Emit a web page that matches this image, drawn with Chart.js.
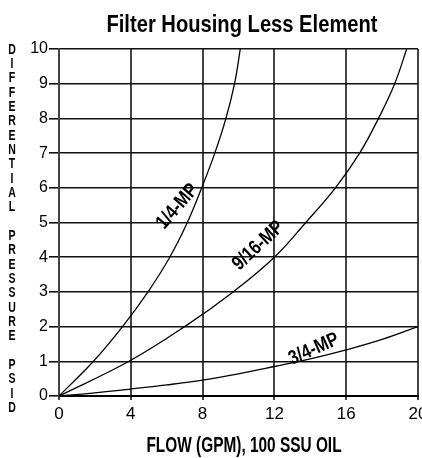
<!DOCTYPE html>
<html>
<head>
<meta charset="utf-8">
<script src="https://cdn.jsdelivr.net/npm/chart.js@4/dist/chart.umd.min.js"></script>
<style>
html,body{margin:0;padding:0;background:#fff;}
#wrap{width:422px;height:458px;}
</style>
</head>
<body>
<div id="wrap"><canvas id="c" width="422" height="458"></canvas></div>
<script>
// Data
const titleText = 'Filter Housing Less Element';
const xTitle = 'FLOW (GPM), 100 SSU OIL';
const yTitle = 'DIFFERENTIAL PRESSURE PSID';
const xTicks = [0, 4, 8, 12, 16, 20];
const yTicks = [0, 1, 2, 3, 4, 5, 6, 7, 8, 9, 10];

const seriesNames = ['1/4-MP', '9/16-MP', '3/4-MP'];
const flowQuarter = [0, 1.92, 3.54, 4.96, 6.17, 7.15, 7.95, 8.68, 9.3, 9.78, 10.1];
const dpQuarter   = [0, 1, 2, 3, 4, 5, 6, 7, 8, 9, 10];
const flowNineSixteenth = [0, 3.9, 7.0, 9.7, 12.0, 13.75, 15.4, 16.75, 17.8, 18.7, 19.37];
const dpNineSixteenth   = [0, 1, 2, 3, 4, 5, 6, 7, 8, 9, 10];
const flowThreeQuarter = [0, 2, 4, 6, 8, 10, 12, 14, 16, 18, 20];
const dpThreeQuarter   = [0, 0.09, 0.2, 0.32, 0.46, 0.64, 0.85, 1.07, 1.33, 1.63, 2.0];

// curve label anchors (data coordinates) and angles
const labelFlow = [6.6, 11.1, 14.2];
const labelDp = [5.46, 4.33, 1.35];
const labelAngle = [-49, -43, -24];

function pts(xs, ys){ return xs.map((x,i)=>({x:x, y:ys[i]})); }

const SANS = "'Liberation Sans', Arial, Helvetica, sans-serif";

// draws narrow (horizontally condensed) bold text, like a Helvetica Narrow face
function narrowText(ctx, text, cx, cy, sizePx, squeeze, angleDeg, baseline){
  ctx.save();
  ctx.font = 'bold ' + sizePx + 'px ' + SANS;
  ctx.fillStyle = '#000';
  ctx.textAlign = 'center';
  ctx.textBaseline = baseline || 'middle';
  ctx.translate(cx, cy);
  if (angleDeg) ctx.rotate(angleDeg * Math.PI / 180);
  ctx.scale(squeeze, 1);
  ctx.fillText(text, 0, 0);
  ctx.restore();
}

const textDecor = {
  id: 'textDecor',
  afterDraw(chart){
    const ctx = chart.ctx;
    // main title
    narrowText(ctx, titleText, 242, 32, 24, 0.84, 0, 'alphabetic');
    // x axis title
    narrowText(ctx, xTitle, 244, 452, 22, 0.7, 0, 'alphabetic');
    // stacked vertical y-axis title
    const letters = yTitle.split('');
    const y0 = 50, step = (408 - 50) / (letters.length - 1);
    letters.forEach((ch, i) => { if (ch !== ' ') narrowText(ctx, ch, 12, y0 + i * step, 14, 0.75, 0, 'middle'); });
  },
  afterDatasetsDraw(chart){
    const ctx = chart.ctx;
    const xs = chart.scales.x, ys = chart.scales.y;
    seriesNames.forEach((name, i) => {
      narrowText(ctx, name, xs.getPixelForValue(labelFlow[i]), ys.getPixelForValue(labelDp[i]), 20, 0.82, labelAngle[i], 'middle');
    });
  }
};

const lineStyle = {borderColor:'#000', borderWidth:1.3, pointRadius:0, showLine:true, fill:false, tension:0.4};

new Chart(document.getElementById('c'), {
  type: 'scatter',
  data: {
    datasets: [
      Object.assign({label: seriesNames[0], data: pts(flowQuarter, dpQuarter)}, lineStyle),
      Object.assign({label: seriesNames[1], data: pts(flowNineSixteenth, dpNineSixteenth)}, lineStyle),
      Object.assign({label: seriesNames[2], data: pts(flowThreeQuarter, dpThreeQuarter)}, lineStyle)
    ]
  },
  options: {
    responsive: false,
    animation: false,
    devicePixelRatio: 1,
    layout: {padding: {left: 0, right: 4, top: 49, bottom: 0}},
    plugins: {
      legend: {display: false},
      tooltip: {enabled: false},
      title: {display: false}
    },
    scales: {
      x: {
        type: 'linear', min: 0, max: 20,
        afterBuildTicks: s => { s.ticks = xTicks.map(v => ({value: v})); },
        afterFit: s => { s.height = 62; s.paddingLeft = 0; s.paddingRight = 0; },
        grid: {color: '#444', lineWidth: 2, tickLength: 4, drawTicks: true},
        border: {color: '#000', width: 2},
        ticks: {color: '#000', font: {family: SANS, size: 17}, padding: 4, maxRotation: 0}
      },
      y: {
        type: 'linear', min: 0, max: 10,
        afterBuildTicks: s => { s.ticks = yTicks.map(v => ({value: v})); },
        afterFit: s => { s.width = 59; s.paddingTop = 0; s.paddingBottom = 0; },
        grid: {color: '#111', lineWidth: 1.6, tickLength: 10, drawTicks: true},
        border: {color: '#444', width: 2},
        ticks: {color: '#000', font: {family: SANS, size: 16}, padding: 1}
      }
    }
  },
  plugins: [textDecor]
});
</script>
</body>
</html>
